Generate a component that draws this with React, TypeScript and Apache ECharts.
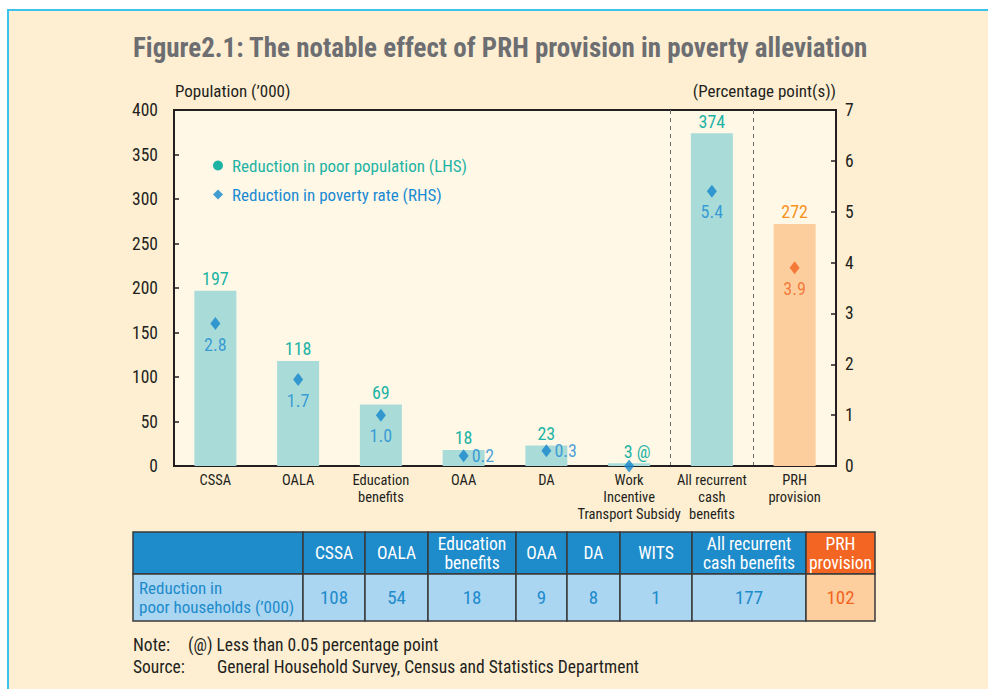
import React, { useEffect, useRef } from "react";
import * as echarts from "echarts";

const categories = [
  "CSSA",
  "OALA",
  "Education\nbenefits",
  "OAA",
  "DA",
  "Work\nIncentive\nTransport Subsidy",
  "All recurrent\ncash\nbenefits",
  "PRH\nprovision",
];
const poorPopulation = [197, 118, 69, 18, 23, 3, 374, 272];
const povertyRate = [2.8, 1.7, 1.0, 0.2, 0.3, 0, 5.4, 3.9];
const leftTicks = { min: 0, max: 400, interval: 50 };
const rightTicks = { min: 0, max: 7, interval: 1 };

const tableHeaders = [
  "",
  "CSSA",
  "OALA",
  "Education\nbenefits",
  "OAA",
  "DA",
  "WITS",
  "All recurrent\ncash benefits",
  "PRH\nprovision",
];
const tableRowLabel = "Reduction in\npoor households (’000)";
const poorHouseholds = [108, 54, 18, 9, 8, 1, 177, 102];

// layout / style (not data)
const FONT = "'Roboto Condensed', 'Liberation Sans Narrow', sans-serif";
const TITLE_FONT = "'Roboto Condensed', 'Open Sans', sans-serif";
const colEdges = [133, 303, 365, 428, 516, 567, 620, 692, 806, 875];
const rowEdges = [532, 574, 621];
const rateLabelPos = ["bottom", "bottom", "bottom", "right", "right", "none", "bottom", "bottom"];
const HIGHLIGHT = 7;

const TEAL_BAR = "#A9DCD9";
const TEAL_TXT = "#1DB3A4";
const ORANGE_BAR = "#FDCE9D";
const ORANGE_TXT = "#F7931E";
const BLUE = "#1386CB";
const RED_ORANGE = "#F26522";
const DARK = "#231F20";

function buildTable(): any[] {
  const els: any[] = [];
  const nCols = colEdges.length - 1;
  for (let c = 0; c < nCols; c++) {
    const x = colEdges[c];
    const w = colEdges[c + 1] - colEdges[c];
    const isHi = c - 1 === HIGHLIGHT;
    els.push({
      type: "rect",
      shape: { x, y: rowEdges[0], width: w, height: rowEdges[1] - rowEdges[0] },
      style: { fill: isHi ? RED_ORANGE : "#1E8BCB", stroke: "#3a3a3a", lineWidth: 1.5 },
      z: 10,
    });
    els.push({
      type: "rect",
      shape: { x, y: rowEdges[1], width: w, height: rowEdges[2] - rowEdges[1] },
      style: { fill: isHi ? "#FDCF9F" : "#AAD6F2", stroke: "#3a3a3a", lineWidth: 1.5 },
      z: 10,
    });
    if (c > 0) {
      els.push({
        type: "text",
        x: x + w / 2,
        y: (rowEdges[0] + rowEdges[1]) / 2,
        style: {
          text: tableHeaders[c],
          fill: "#ffffff",
          font: `17.5px ${FONT}`,
          lineHeight: 19,
          align: "center",
          verticalAlign: "middle",
        },
        z: 11,
      });
      els.push({
        type: "text",
        x: x + w / 2,
        y: (rowEdges[1] + rowEdges[2]) / 2,
        style: {
          text: String(poorHouseholds[c - 1]),
          fill: isHi ? RED_ORANGE : "#1E8BCB",
          font: `19px ${FONT}`,
          align: "center",
          verticalAlign: "middle",
        },
        z: 11,
      });
    } else {
      els.push({
        type: "text",
        x: x + 6,
        y: (rowEdges[1] + rowEdges[2]) / 2,
        style: {
          text: tableRowLabel,
          fill: "#1E8BCB",
          font: `17px ${FONT}`,
          lineHeight: 19,
          align: "left",
          verticalAlign: "middle",
        },
        z: 11,
      });
    }
  }
  return els;
}

export default function App() {
  const ref = useRef<HTMLDivElement>(null);
  useEffect(() => {
    if (!ref.current) return;
    const chart = echarts.init(ref.current, null, { renderer: "svg" });
    const option: any = {
      animation: false,
      backgroundColor: "#ffffff",
      textStyle: { fontFamily: FONT },
      legend: {
        orient: "vertical",
        left: 208,
        top: 152,
        itemGap: 12,
        itemWidth: 10,
        itemHeight: 10,
        textStyle: { fontFamily: FONT, fontSize: 17, padding: [0, 0, 0, 4] },
        data: [
          {
            name: "Reduction in poor population (LHS)",
            icon: "circle",
            itemStyle: { color: TEAL_TXT },
            textStyle: { color: TEAL_TXT },
          },
          {
            name: "Reduction in poverty rate (RHS)",
            icon: "diamond",
            itemStyle: { color: BLUE },
            textStyle: { color: "#1A8AD2" },
          },
        ],
      },
      grid: {
        left: 174,
        right: 152,
        top: 110,
        bottom: 223,
        show: true,
        backgroundColor: "#FFF8E7",
        borderColor: DARK,
        borderWidth: 2,
      },
      xAxis: {
        type: "category",
        data: categories,
        axisLine: { lineStyle: { color: DARK, width: 2 } },
        axisTick: { show: false },
        axisLabel: { color: DARK, fontSize: 14.5, lineHeight: 17, margin: 6, interval: 0, fontFamily: FONT },
        splitLine: {
          show: true,
          interval: (i: number) => i === 6 || i === 7,
          lineStyle: { color: "#6d6d6d", type: [4, 4], width: 1 },
        },
      },
      yAxis: [
        {
          type: "value",
          ...leftTicks,
          axisLine: { show: true, lineStyle: { color: DARK, width: 2 } },
          axisTick: { show: true, inside: true, length: 5, lineStyle: { color: DARK, width: 1.5 } },
          axisLabel: { color: DARK, fontSize: 17.5, margin: 16, fontFamily: FONT },
          splitLine: { show: false },
        },
        {
          type: "value",
          ...rightTicks,
          position: "right",
          axisLine: { show: true, lineStyle: { color: DARK, width: 2 } },
          axisTick: { show: true, inside: true, length: 5, lineStyle: { color: DARK, width: 1.5 } },
          axisLabel: { color: DARK, fontSize: 17.5, margin: 9, fontFamily: FONT },
          splitLine: { show: false },
        },
      ],
      series: [
        {
          name: "Reduction in poor population (LHS)",
          type: "bar",
          barWidth: 42,
          data: poorPopulation.map((v, i) => ({
            value: v,
            itemStyle: { color: i === HIGHLIGHT ? ORANGE_BAR : TEAL_BAR },
            label:
              i === 5
                ? { formatter: "{c} @", offset: [8, 0] }
                : i === HIGHLIGHT
                ? { color: ORANGE_TXT }
                : undefined,
          })),
          label: {
            show: true,
            position: "top",
            distance: 3,
            color: TEAL_TXT,
            fontSize: 18,
            fontFamily: FONT,
          },
          z: 2,
        },
        {
          name: "Reduction in poverty rate (RHS)",
          type: "scatter",
          yAxisIndex: 1,
          symbol: "diamond",
          symbolSize: [10, 13],
          data: povertyRate.map((v, i) => ({
            value: v,
            itemStyle: { color: i === HIGHLIGHT ? RED_ORANGE : BLUE },
            label:
              rateLabelPos[i] === "none"
                ? { show: false }
                : {
                    show: true,
                    position: rateLabelPos[i],
                    distance: rateLabelPos[i] === "right" ? 3 : 5,
                    color: i === HIGHLIGHT ? RED_ORANGE : "#1A8AD2",
                  },
          })),
          itemStyle: { color: BLUE },
          label: {
            fontSize: 18,
            fontFamily: FONT,
            formatter: (p: any) => Number(p.value).toFixed(1),
          },
          z: 5,
        },
      ],
      graphic: [
        {
          type: "rect",
          shape: { x: 9, y: 11, width: 990, height: 690 },
          style: { fill: "#FEEFD3" },
          z: -10,
          silent: true,
        },
        {
          type: "line",
          shape: { x1: 7, y1: 10, x2: 988, y2: 10 },
          style: { stroke: "#3BC3EB", lineWidth: 2 },
          z: -5,
        },
        {
          type: "line",
          shape: { x1: 8, y1: 9, x2: 8, y2: 689 },
          style: { stroke: "#3BC3EB", lineWidth: 2 },
          z: -5,
        },
        {
          type: "text",
          x: 133,
          y: 48,
          style: {
            text: "Figure2.1: The notable effect of PRH provision in poverty alleviation",
            fill: "#6D6E71",
            font: `bold 27px ${TITLE_FONT}`,
            verticalAlign: "middle",
          },
        },
        {
          type: "text",
          x: 175,
          y: 91,
          style: { text: "Population (’000)", fill: DARK, font: `17px ${FONT}`, verticalAlign: "middle" },
        },
        {
          type: "text",
          x: 836,
          y: 91,
          style: {
            text: "(Percentage point(s))",
            fill: DARK,
            font: `17px ${FONT}`,
            align: "right",
            verticalAlign: "middle",
          },
        },
        ...buildTable(),
        {
          type: "text",
          x: 133,
          y: 645,
          style: { text: "Note:", fill: DARK, font: `17.5px ${FONT}`, verticalAlign: "middle" },
        },
        {
          type: "text",
          x: 188,
          y: 645,
          style: {
            text: "(@) Less than 0.05 percentage point",
            fill: DARK,
            font: `17.5px ${FONT}`,
            verticalAlign: "middle",
          },
        },
        {
          type: "text",
          x: 133,
          y: 667,
          style: { text: "Source:", fill: DARK, font: `17.5px ${FONT}`, verticalAlign: "middle" },
        },
        {
          type: "text",
          x: 217,
          y: 667,
          style: {
            text: "General Household Survey, Census and Statistics Department",
            fill: DARK,
            font: `17.5px ${FONT}`,
            verticalAlign: "middle",
          },
        },
      ],
    };
    chart.setOption(option);
    return () => chart.dispose();
  }, []);
  return (
    <div style={{ position: "fixed", left: 0, top: 0, width: 988, height: 689 }}>
      <div ref={ref} style={{ width: 988, height: 689 }} />
    </div>
  );
}
